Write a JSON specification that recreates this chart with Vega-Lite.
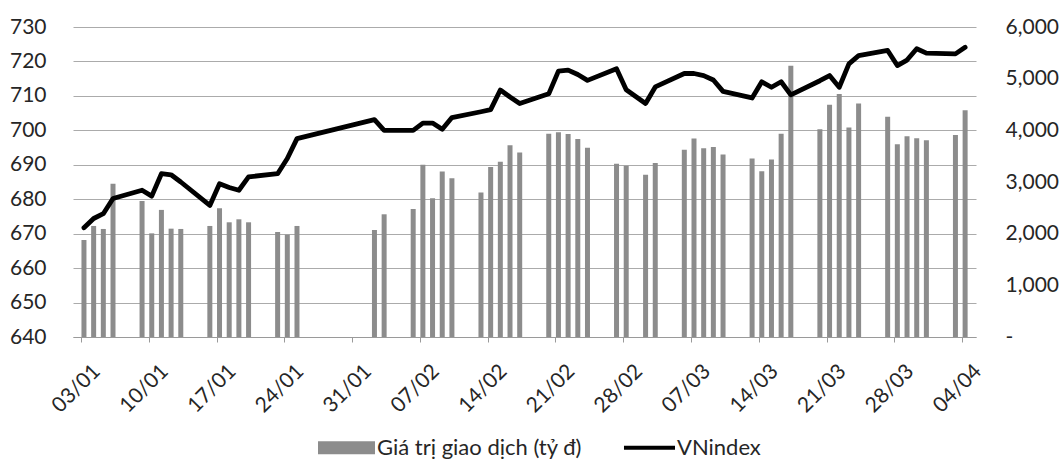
{
  "$schema": "https://vega.github.io/schema/vega-lite/v6.json",
  "width": 903,
  "height": 310,
  "autosize": {"type": "none"},
  "padding": {"left": 73, "top": 27, "right": 84, "bottom": 129},
  "background": "white",
  "config": {
    "font": "Lato",
    "view": {"stroke": null},
    "axis": {"labelColor": "#262626", "labelFont": "Lato", "labelFontSize": 21, "title": null}
  },
  "data": {
    "values": [
      {"ngay": "2017-01-03", "gtgd": 1877, "vnindex": 671.7},
      {"ngay": "2017-01-04", "gtgd": 2149, "vnindex": 674.4},
      {"ngay": "2017-01-05", "gtgd": 2091, "vnindex": 675.8},
      {"ngay": "2017-01-06", "gtgd": 2964, "vnindex": 680.2},
      {"ngay": "2017-01-09", "gtgd": 2634, "vnindex": 682.6},
      {"ngay": "2017-01-10", "gtgd": 2006, "vnindex": 680.9},
      {"ngay": "2017-01-11", "gtgd": 2460, "vnindex": 687.4},
      {"ngay": "2017-01-12", "gtgd": 2097, "vnindex": 687.1},
      {"ngay": "2017-01-13", "gtgd": 2091, "vnindex": 685.0},
      {"ngay": "2017-01-16", "gtgd": 2149, "vnindex": 678.2},
      {"ngay": "2017-01-17", "gtgd": 2492, "vnindex": 684.5},
      {"ngay": "2017-01-18", "gtgd": 2220, "vnindex": 683.4},
      {"ngay": "2017-01-19", "gtgd": 2278, "vnindex": 682.6},
      {"ngay": "2017-01-20", "gtgd": 2220, "vnindex": 686.5},
      {"ngay": "2017-01-23", "gtgd": 2032, "vnindex": 687.4},
      {"ngay": "2017-01-24", "gtgd": 1981, "vnindex": 691.8},
      {"ngay": "2017-01-25", "gtgd": 2149, "vnindex": 697.6},
      {"ngay": "2017-02-02", "gtgd": 2071, "vnindex": 703.1},
      {"ngay": "2017-02-03", "gtgd": 2375, "vnindex": 700.0},
      {"ngay": "2017-02-06", "gtgd": 2479, "vnindex": 700.0},
      {"ngay": "2017-02-07", "gtgd": 3333, "vnindex": 702.1},
      {"ngay": "2017-02-08", "gtgd": 2686, "vnindex": 702.1},
      {"ngay": "2017-02-09", "gtgd": 3204, "vnindex": 700.3},
      {"ngay": "2017-02-10", "gtgd": 3074, "vnindex": 703.7},
      {"ngay": "2017-02-13", "gtgd": 2796, "vnindex": 705.4},
      {"ngay": "2017-02-14", "gtgd": 3288, "vnindex": 706.0},
      {"ngay": "2017-02-15", "gtgd": 3392, "vnindex": 711.7},
      {"ngay": "2017-02-16", "gtgd": 3709, "vnindex": 709.7},
      {"ngay": "2017-02-17", "gtgd": 3573, "vnindex": 707.8},
      {"ngay": "2017-02-20", "gtgd": 3935, "vnindex": 710.6},
      {"ngay": "2017-02-21", "gtgd": 3961, "vnindex": 717.2},
      {"ngay": "2017-02-22", "gtgd": 3929, "vnindex": 717.5},
      {"ngay": "2017-02-23", "gtgd": 3832, "vnindex": 716.2},
      {"ngay": "2017-02-24", "gtgd": 3663, "vnindex": 714.5},
      {"ngay": "2017-02-27", "gtgd": 3353, "vnindex": 717.9},
      {"ngay": "2017-02-28", "gtgd": 3314, "vnindex": 711.8},
      {"ngay": "2017-03-02", "gtgd": 3139, "vnindex": 707.8},
      {"ngay": "2017-03-03", "gtgd": 3366, "vnindex": 712.6},
      {"ngay": "2017-03-06", "gtgd": 3625, "vnindex": 716.5},
      {"ngay": "2017-03-07", "gtgd": 3840, "vnindex": 716.5},
      {"ngay": "2017-03-08", "gtgd": 3651, "vnindex": 715.9},
      {"ngay": "2017-03-09", "gtgd": 3677, "vnindex": 714.6},
      {"ngay": "2017-03-10", "gtgd": 3534, "vnindex": 711.3},
      {"ngay": "2017-03-13", "gtgd": 3457, "vnindex": 709.4},
      {"ngay": "2017-03-14", "gtgd": 3210, "vnindex": 714.1},
      {"ngay": "2017-03-15", "gtgd": 3437, "vnindex": 712.5},
      {"ngay": "2017-03-16", "gtgd": 3936, "vnindex": 714.1},
      {"ngay": "2017-03-17", "gtgd": 5250, "vnindex": 710.3},
      {"ngay": "2017-03-20", "gtgd": 4021, "vnindex": 714.4},
      {"ngay": "2017-03-21", "gtgd": 4494, "vnindex": 715.9},
      {"ngay": "2017-03-22", "gtgd": 4702, "vnindex": 712.5},
      {"ngay": "2017-03-23", "gtgd": 4053, "vnindex": 719.3},
      {"ngay": "2017-03-24", "gtgd": 4520, "vnindex": 721.7},
      {"ngay": "2017-03-27", "gtgd": 4261, "vnindex": 723.2},
      {"ngay": "2017-03-28", "gtgd": 3729, "vnindex": 718.8},
      {"ngay": "2017-03-29", "gtgd": 3885, "vnindex": 720.4},
      {"ngay": "2017-03-30", "gtgd": 3846, "vnindex": 723.7},
      {"ngay": "2017-03-31", "gtgd": 3807, "vnindex": 722.4},
      {"ngay": "2017-04-03", "gtgd": 3911, "vnindex": 722.2},
      {"ngay": "2017-04-04", "gtgd": 4390, "vnindex": 724.1}
    ]
  },
  "encoding": {
    "x": {
      "field": "ngay",
      "type": "temporal",
      "scale": {
        "type": "utc",
        "domain": [
          {"year": 2017, "month": 1, "date": 2, "hours": 16, "minutes": 40, "utc": true},
          {"year": 2017, "month": 4, "date": 4, "hours": 22, "utc": true}
        ]
      },
      "axis": {
        "values": [
          {"year": 2017, "month": 1, "date": 3, "utc": true},
          {"year": 2017, "month": 1, "date": 10, "utc": true},
          {"year": 2017, "month": 1, "date": 17, "utc": true},
          {"year": 2017, "month": 1, "date": 24, "utc": true},
          {"year": 2017, "month": 1, "date": 31, "utc": true},
          {"year": 2017, "month": 2, "date": 7, "utc": true},
          {"year": 2017, "month": 2, "date": 14, "utc": true},
          {"year": 2017, "month": 2, "date": 21, "utc": true},
          {"year": 2017, "month": 2, "date": 28, "utc": true},
          {"year": 2017, "month": 3, "date": 7, "utc": true},
          {"year": 2017, "month": 3, "date": 14, "utc": true},
          {"year": 2017, "month": 3, "date": 21, "utc": true},
          {"year": 2017, "month": 3, "date": 28, "utc": true},
          {"year": 2017, "month": 4, "date": 4, "utc": true}
        ],
        "labelExpr": "utcFormat(datum.value, '%d/%m')",
        "labelAngle": -45,
        "labelAlign": "right",
        "labelBaseline": "top",
        "labelPadding": 18,
        "labelOffset": 8,
        "grid": false,
        "domainColor": "#9a9a9a",
        "tickColor": "#9a9a9a",
        "tickSize": 5,
        "title": null
      }
    }
  },
  "layer": [
    {
      "mark": {"type": "bar", "width": 5, "xOffset": 3},
      "encoding": {
        "y": {
          "field": "gtgd",
          "type": "quantitative",
          "scale": {"domain": [0, 6000], "nice": false},
          "axis": {
            "orient": "right",
            "values": [0, 1000, 2000, 3000, 4000, 5000, 6000],
            "labelExpr": "datum.value === 0 ? '-' : format(datum.value, ',')",
            "grid": false,
            "ticks": false,
            "domain": false,
            "labelPadding": 29,
            "title": null
          }
        },
        "color": {
          "datum": "Giá trị giao dịch (tỷ đ)",
          "scale": {"domain": ["Giá trị giao dịch (tỷ đ)", "VNindex"], "range": ["#8c8c8c", "#000000"]},
          "legend": {
            "orient": "none",
            "legendX": 245,
            "legendY": 392,
            "direction": "horizontal",
            "title": null,
            "labelFont": "Lato",
            "labelFontSize": 22,
            "labelColor": "#262626",
            "labelOffset": 2,
            "labelLimit": 400,
            "columnPadding": 36,
            "padding": 0,
            "symbolSize": 3249,
            "symbolStrokeWidth": 0,
            "encode": {
              "symbols": {
                "update": {
                  "shape": {"signal": "datum.value === 'VNindex' ? 'M-0.79,-0.067H1V0.067H-0.79Z' : 'M-1,-0.228H1V0.228H-1Z'"},
                  "fill": {"signal": "datum.value === 'VNindex' ? '#000000' : '#8c8c8c'"},
                  "stroke": {"value": "transparent"},
                  "size": {"value": 3249},
                  "opacity": {"value": 1}
                }
              }
            }
          }
        }
      }
    },
    {
      "mark": {"type": "line", "strokeWidth": 4.8, "strokeJoin": "round", "strokeCap": "round", "xOffset": 3},
      "encoding": {
        "y": {
          "field": "vnindex",
          "type": "quantitative",
          "scale": {"domain": [640, 730], "nice": false, "zero": false},
          "axis": {
            "orient": "left",
            "values": [640, 650, 660, 670, 680, 690, 700, 710, 720, 730],
            "grid": true,
            "gridColor": "#ababab",
            "gridWidth": 1,
            "ticks": false,
            "domain": false,
            "labelPadding": 27,
            "title": null
          }
        },
        "color": {"datum": "VNindex"}
      }
    }
  ],
  "resolve": {"scale": {"y": "independent"}}
}
